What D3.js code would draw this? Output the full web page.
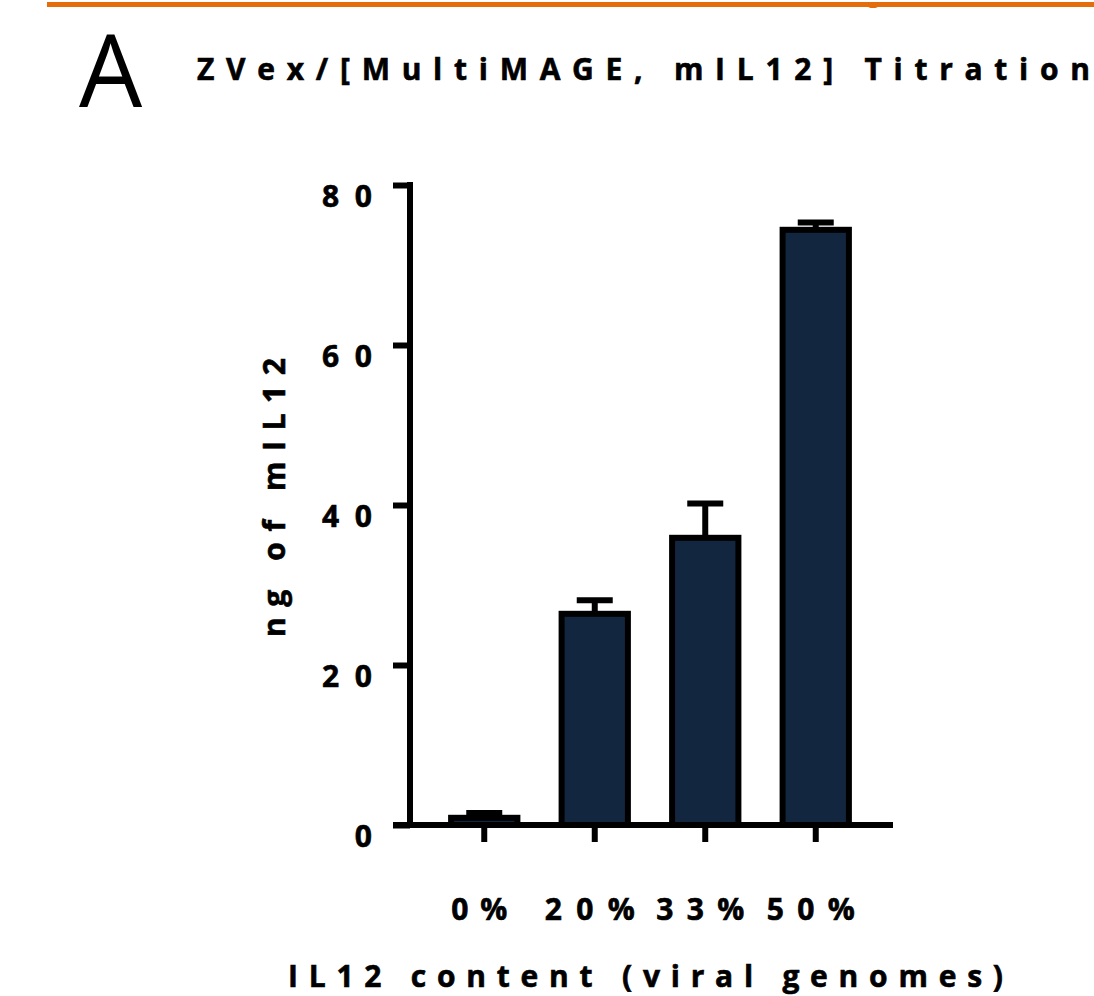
<!DOCTYPE html>
<html>
<head>
<meta charset="utf-8">
<script src="https://cdn.jsdelivr.net/npm/d3@7"></script>
<style>
  html, body { margin: 0; padding: 0; background: #fff; }
  svg { display: block; }
  text { font-family: "Open Sans", sans-serif; fill: #000; }
  text.bold { font-weight: 700; font-size: 30px; stroke: #000; stroke-width: 0.6px; }
</style>
</head>
<body>
<script>
// data
const categories = ['0%', '20%', '33%', '50%'];
const means      = [0.9, 26.4, 35.9, 74.4];
const errTop     = [1.5, 28.1, 40.2, 75.3];
const yTicks     = [0, 20, 40, 60, 80];

const W = 1094, H = 996;

const svg = d3.select('body').append('svg')
    .attr('width', W)
    .attr('height', H);

// orange header rule
svg.append('rect')
    .attr('x', 47).attr('y', 2)
    .attr('width', W - 47).attr('height', 5)
    .attr('fill', '#e46c0a');
svg.append('rect')
    .attr('x', 868).attr('y', 2)
    .attr('width', 10).attr('height', 6)
    .attr('rx', 3)
    .attr('fill', '#e46c0a');

// panel letter + title
svg.append('text')
    .attr('x', 79).attr('y', 107)
    .style('font-size', '100px')
    .style('font-weight', 400)
    .text('A');

svg.append('text')
    .attr('class', 'bold')
    .attr('x', 197).attr('y', 80)
    .attr('textLength', 893)
    .attr('lengthAdjust', 'spacing')
    .text('ZVex/[MultiMAGE, mIL12] Titration');

// scales
const y = d3.scaleLinear().domain([0, 80]).range([825, 185]);
const x = d3.scaleBand().domain(categories)
    .range([429, 871])
    .paddingInner(0.4)
    .paddingOuter(0.2);

const data = categories.map((c, i) => ({cat: c, v: means[i], e: errTop[i]}));

const g = svg.append('g');

// error bars (drawn first, bar covers stem)
const capW = 36;
g.selectAll('line.stem').data(data).enter().append('line')
    .attr('class', 'stem')
    .attr('x1', d => x(d.cat) + x.bandwidth() / 2)
    .attr('x2', d => x(d.cat) + x.bandwidth() / 2)
    .attr('y1', d => y(d.v))
    .attr('y2', d => y(d.e))
    .attr('stroke', '#000').attr('stroke-width', 6);
g.selectAll('line.cap').data(data).enter().append('line')
    .attr('class', 'cap')
    .attr('x1', d => x(d.cat) + x.bandwidth() / 2 - capW / 2)
    .attr('x2', d => x(d.cat) + x.bandwidth() / 2 + capW / 2)
    .attr('y1', d => y(d.e))
    .attr('y2', d => y(d.e))
    .attr('stroke', '#000').attr('stroke-width', 6);

// bars
g.selectAll('rect.bar').data(data).enter().append('rect')
    .attr('class', 'bar')
    .attr('x', d => x(d.cat))
    .attr('y', d => y(d.v))
    .attr('width', x.bandwidth())
    .attr('height', d => y(0) - y(d.v))
    .attr('fill', '#132640')
    .attr('stroke', '#000')
    .attr('stroke-width', 6);

// y axis
const yAxis = svg.append('g')
    .attr('transform', 'translate(410,0)')
    .call(d3.axisLeft(y).tickValues(yTicks).tickSize(17).tickSizeOuter(0).tickFormat(d3.format('d')));
yAxis.select('.domain')
    .attr('d', `M0,${y(80) - 3}V${y(0) + 3}`)
    .attr('stroke', '#000').attr('stroke-width', 6);
yAxis.selectAll('.tick line').attr('stroke', '#000').attr('stroke-width', 6);
yAxis.selectAll('.tick text')
    .attr('class', 'bold')
    .attr('x', -38)
    .attr('dy', '0.72em')
    .attr('fill', '#000')
    .style('font-family', '"Open Sans", sans-serif')
    .attr('text-anchor', 'end')
    .attr('textLength', d => String(d).length > 1 ? 50 : 18)
    .attr('lengthAdjust', 'spacing');

// x axis
const xAxis = svg.append('g')
    .attr('transform', `translate(0,${y(0)})`)
    .call(d3.axisBottom(x).tickSize(17).tickSizeOuter(0).tickFormat(''));
xAxis.select('.domain')
    .attr('d', 'M393,0H893')
    .attr('stroke', '#000').attr('stroke-width', 6);
xAxis.selectAll('.tick line').attr('stroke', '#000').attr('stroke-width', 6);

// x category labels
const labelW = {'0%': 56, '20%': 90, '33%': 88, '50%': 88};
svg.append('g').selectAll('text').data(categories).enter().append('text')
    .attr('class', 'bold')
    .attr('x', d => x(d) + x.bandwidth() / 2 - 5)
    .attr('y', 920)
    .attr('text-anchor', 'middle')
    .attr('textLength', d => labelW[d])
    .attr('lengthAdjust', 'spacing')
    .text(d => d);

// axis titles
svg.append('text')
    .attr('class', 'bold')
    .attr('x', 288).attr('y', 987)
    .attr('textLength', 715)
    .attr('lengthAdjust', 'spacing')
    .text('IL12 content (viral genomes)');

svg.append('text')
    .attr('class', 'bold')
    .attr('transform', 'translate(285,637) rotate(-90)')
    .attr('textLength', 279)
    .attr('lengthAdjust', 'spacing')
    .text('ng of mIL12');
</script>
</body>
</html>
